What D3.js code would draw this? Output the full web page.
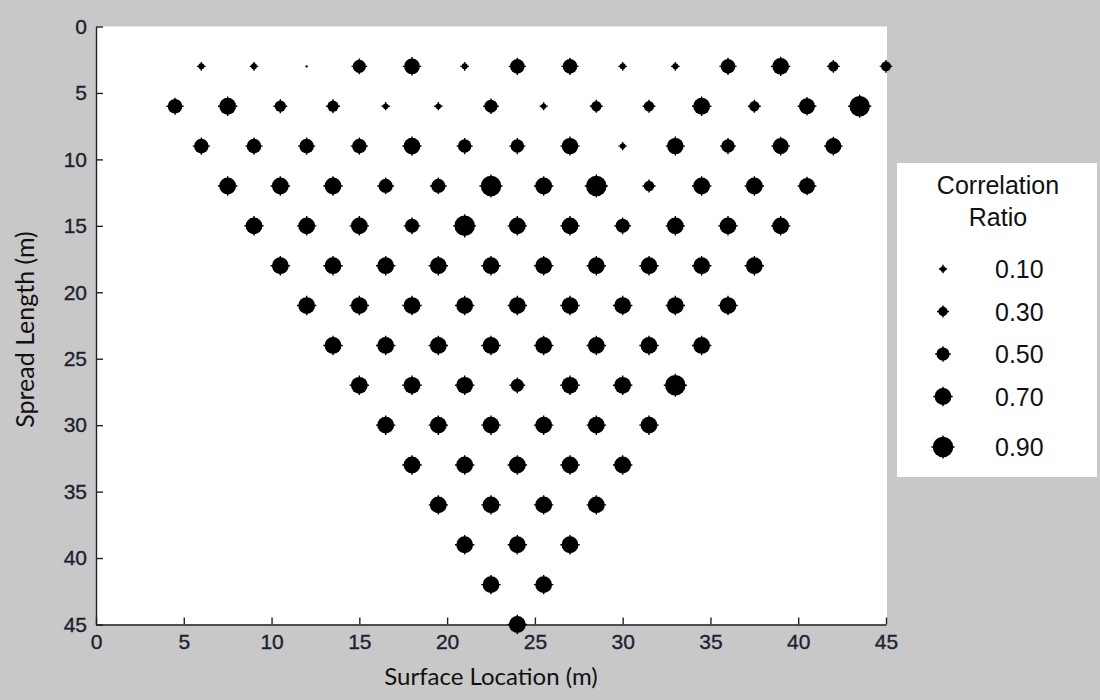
<!DOCTYPE html>
<html>
<head>
<meta charset="utf-8">
<script src="https://cdn.jsdelivr.net/npm/d3@7"></script>
<style>
  body { margin: 0; background: #c8c8c8; }
  svg { display: block; }
</style>
</head>
<body>
<div id="chart"></div>
<script>
// spread length of each row (m), top to bottom
const spreadLengths = [3, 6, 9, 12, 15, 18, 21, 24, 27, 30, 33, 36, 39, 42, 45]
// surface location of the first point in each row (m), points are 3 m apart
const rowStart = [6, 4.5, 6, 7.5, 9, 10.5, 12, 13.5, 15, 16.5, 18, 19.5, 21, 22.5, 24]
const pointStep = 3
// correlation ratio of each point, row by row, left to right
const ratios = [
  [0.12, 0.12, 0.0, 0.5, 0.65, 0.12, 0.58, 0.58, 0.12, 0.12, 0.58, 0.7, 0.35, 0.33],
  [0.58, 0.7, 0.4, 0.4, 0.1, 0.1, 0.5, 0.08, 0.35, 0.35, 0.7, 0.35, 0.66, 0.9],
  [0.58, 0.58, 0.58, 0.58, 0.7, 0.52, 0.52, 0.68, 0.1, 0.68, 0.52, 0.66, 0.66],
  [0.7, 0.7, 0.7, 0.56, 0.56, 0.9, 0.7, 0.9, 0.36, 0.7, 0.7, 0.66],
  [0.7, 0.7, 0.7, 0.56, 0.9, 0.7, 0.7, 0.56, 0.7, 0.7, 0.7],
  [0.7, 0.7, 0.7, 0.7, 0.7, 0.7, 0.7, 0.7, 0.7, 0.7],
  [0.7, 0.7, 0.7, 0.7, 0.7, 0.7, 0.7, 0.7, 0.7],
  [0.7, 0.7, 0.7, 0.7, 0.7, 0.7, 0.7, 0.7],
  [0.7, 0.7, 0.7, 0.5, 0.7, 0.7, 0.9],
  [0.7, 0.7, 0.7, 0.7, 0.7, 0.7],
  [0.7, 0.7, 0.7, 0.7, 0.7],
  [0.7, 0.7, 0.7, 0.7],
  [0.7, 0.7, 0.7],
  [0.7, 0.7],
  [0.7]
]
const xTicks = [0, 5, 10, 15, 20, 25, 30, 35, 40, 45]
const yTicks = [0, 5, 10, 15, 20, 25, 30, 35, 40, 45]
const legendValues = [0.1, 0.3, 0.5, 0.7, 0.9]
const legendLabels = ['0.10', '0.30', '0.50', '0.70', '0.90']

const width = 1100
const height = 700
const tickFont = '"Liberation Sans", Arial, sans-serif'
const titleFont = 'Lato, "Open Sans", sans-serif'

const svg = d3.select('#chart').append('svg')
  .attr('width', width)
  .attr('height', height)

svg.append('rect').attr('width', width).attr('height', height).attr('fill', '#c8c8c8')

const x = d3.scaleLinear().domain([0, 45]).range([96, 886])
const y = d3.scaleLinear().domain([0, 45]).range([26.5, 624.5])
const r = d3.scaleLinear().domain([0, 1]).range([1.9, 11.2])

// white plot area
svg.append('rect')
  .attr('x', x(0)).attr('y', y(0))
  .attr('width', x(45) - x(0) + 1).attr('height', y(45) - y(0))
  .attr('fill', '#fff')

// flatten rows into points
const points = []
ratios.forEach((row, i) => {
  row.forEach((v, j) => {
    points.push({ loc: rowStart[i] + pointStep * j, len: spreadLengths[i], v: v })
  })
})

// axes, ticks point inward like the original
const xAxis = svg.append('g')
  .attr('transform', `translate(0,${y(45)})`)
  .call(d3.axisBottom(x).tickValues(xTicks).tickSizeInner(-7).tickSizeOuter(0).tickPadding(10))
const yAxis = svg.append('g')
  .attr('transform', `translate(${x(0)},0)`)
  .call(d3.axisLeft(y).tickValues(yTicks).tickSizeInner(-7).tickSizeOuter(0).tickPadding(9))

;[xAxis, yAxis].forEach(g => {
  g.selectAll('path, line').attr('stroke', '#222').attr('stroke-width', 1.4)
  g.selectAll('text')
    .attr('font-family', tickFont)
    .attr('font-size', 21)
    .attr('fill', '#1e1e32')
    .attr('stroke', '#1e1e32')
    .attr('stroke-width', 0.35)
})

// marker: filled circle with little pixel spikes (none on the near-zero dots)
function drawMarker(sel) {
  sel.append('circle')
    .attr('r', d => d.v < 0.05 ? 1.2 : r(d.v))
    .attr('fill', '#000')
  sel.filter(d => d.v >= 0.05).append('path')
    .attr('d', d => {
      const s = r(d.v) + 1.3
      return `M${-s},0H${s}M0,${-s}V${s}`
    })
    .attr('stroke', '#000')
    .attr('stroke-width', 1.4)
}

svg.append('g').selectAll('g')
  .data(points)
  .join('g')
  .attr('transform', d => `translate(${x(d.loc)},${y(d.len)})`)
  .call(drawMarker)

// axis titles
svg.append('text')
  .attr('x', (x(0) + x(45)) / 2)
  .attr('y', 685)
  .attr('text-anchor', 'middle')
  .attr('font-family', titleFont)
  .attr('font-size', 24)
  .attr('fill', '#111')
  .text('Surface Location (m)')

svg.append('text')
  .attr('transform', `translate(34,${(y(0) + y(45)) / 2 + 4}) rotate(-90)`)
  .attr('text-anchor', 'middle')
  .attr('font-family', titleFont)
  .attr('font-size', 25)
  .attr('fill', '#111')
  .text('Spread Length (m)')

// legend
const legend = svg.append('g')
legend.append('rect')
  .attr('x', 897).attr('y', 163)
  .attr('width', 200).attr('height', 314)
  .attr('fill', '#fff')

legend.append('text')
  .attr('x', 998).attr('y', 194)
  .attr('text-anchor', 'middle')
  .attr('font-family', tickFont)
  .attr('font-size', 25)
  .attr('fill', '#111')
  .text('Correlation')
legend.append('text')
  .attr('x', 998).attr('y', 226)
  .attr('text-anchor', 'middle')
  .attr('font-family', tickFont)
  .attr('font-size', 25)
  .attr('fill', '#111')
  .text('Ratio')

const legendItems = legend.selectAll('g.item')
  .data(legendValues.map((v, i) => ({ v: v, label: legendLabels[i], i: i })))
  .join('g')
  .attr('class', 'item')
  .attr('transform', d => `translate(943,${269 + d.i * 42.5 + (d.i === 4 ? 8 : 0)})`)

legendItems.call(drawMarker)
legendItems.append('text')
  .attr('x', 52)
  .attr('dy', '0.36em')
  .attr('font-family', tickFont)
  .attr('font-size', 25)
  .attr('fill', '#111')
  .text(d => d.label)
</script>
</body>
</html>
